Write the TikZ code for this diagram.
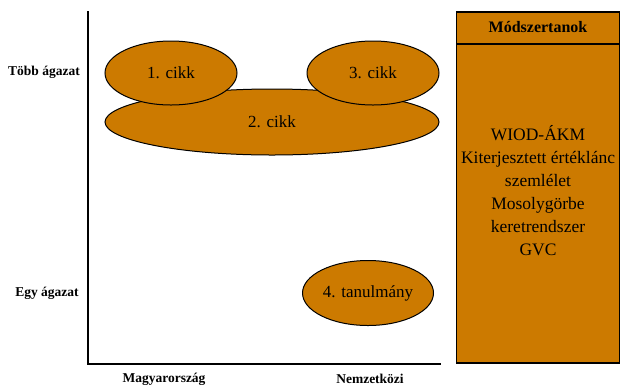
\documentclass[tikz,border=0pt]{standalone}
\usepackage{fontspec}
\setmainfont{Liberation Serif}
\usetikzlibrary{shapes.geometric}
\definecolor{ochre}{HTML}{CC7A00}
\begin{document}
\begin{tikzpicture}[x=1pt,y=-1pt,
  blob/.style={ellipse,draw=black,line width=1pt,fill=ochre,inner sep=0pt,font=\fontsize{17}{20}\selectfont},
  axlabel/.style={font=\bfseries\fontsize{13.5}{16}\selectfont},
  axisline/.style={line width=2pt,line cap=rect}]
\useasboundingbox (0,0) rectangle (620,384);
% axes
\coordinate (top) at (88,12);
\coordinate (origin) at (88,364);
\coordinate (xend) at (440,364);
\draw[axisline] (top) -- (origin) -- (xend);
% ellipses
\node[blob,minimum width=334,minimum height=66] (c2) at (272,122) {2. cikk};
\node[blob,minimum width=132,minimum height=64] (c1) at (171,73) {1. cikk};
\node[blob,minimum width=132,minimum height=64] (c3) at (373,73) {3. cikk};
\node[blob,minimum width=131,minimum height=65] (c4) at (368,293) {4. tanulmány};
% axis labels
\node[axlabel] (tobb) at (44,72) {Több ágazat};
\node[axlabel] (egy) at (47,293) {Egy ágazat};
\node[axlabel] (hu) at (164,379) {Magyarország};
\node[axlabel] (intl) at (370,379) {Nemzetközi};
% methods box
\node[draw=black,line width=1.5pt,fill=ochre,minimum width=163,minimum height=351,inner sep=0pt] (box) at (538,187.5) {};
\coordinate (divl) at (456,44);
\coordinate (divr) at (620,44);
\draw[line width=1.5pt] (divl) -- (divr);
\node[font=\bfseries\fontsize{16}{19}\selectfont] (head) at (538,27) {Módszertanok};
\node[align=center,font=\fontsize{17.5}{23}\selectfont] (body) at (538,191) {WIOD-ÁKM\\Kiterjesztett értéklánc\\szemlélet\\Mosolygörbe\\keretrendszer\\GVC};
\end{tikzpicture}
\end{document}
